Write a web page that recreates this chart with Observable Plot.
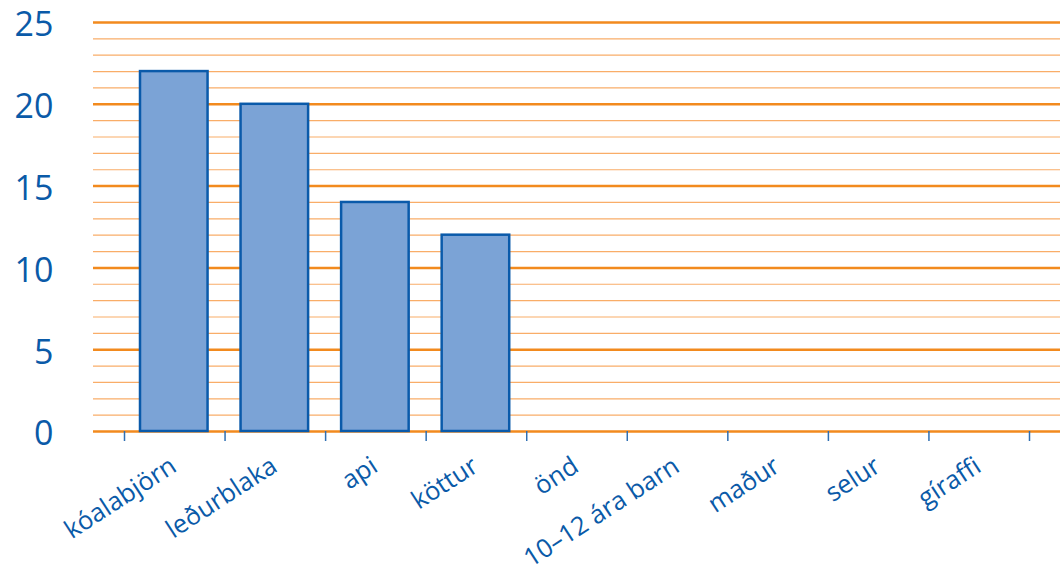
<!DOCTYPE html>
<html>
<head>
<meta charset="utf-8">
<script src="https://cdn.jsdelivr.net/npm/d3@7"></script>
<script src="https://cdn.jsdelivr.net/npm/@observablehq/plot@0.6"></script>
<style>
  html, body { margin: 0; padding: 0; background: #fff; }
  #chart svg { display: block; }
</style>
</head>
<body>
<div id="chart"></div>
<script>
const categories = ["kóalabjörn", "leðurblaka", "api", "köttur", "önd", "10–12 ára barn", "maður", "selur", "gíraffi"];
const values = [22, 20, 14, 12, null, null, null, null, null];
const majorTicks = [0, 5, 10, 15, 20, 25];
const minorTicks = d3.range(0, 26).filter(v => v % 5 !== 0);

const data = categories.map((c, i) => ({ name: c, i, value: values[i] }));
const bars = data.filter(d => d.value != null);
const boundaries = d3.range(0, categories.length + 1);

const blue = "#0a5aa8";

const chart = Plot.plot({
  width: 1060,
  height: 573,
  marginLeft: 93,
  marginRight: 0,
  marginTop: 22,
  marginBottom: 142,
  style: { fontFamily: "'Open Sans', sans-serif", background: "#fff" },
  x: { domain: [0, categories.length], range: [124, 1029], axis: null },
  y: { domain: [0, 25], axis: null },
  marks: [
    Plot.ruleY(minorTicks, { stroke: "#f9ad68", strokeWidth: 1.2 }),
    Plot.ruleY(majorTicks, { stroke: "#f28a1e", strokeWidth: 2.5 }),
    Plot.rectY(bars, {
      x1: d => d.i, x2: d => d.i + 1, y: "value",
      insetLeft: 16, insetRight: 17,
      fill: "#7ba3d6", stroke: "#0a5aaa", strokeWidth: 2.5
    }),
    Plot.ruleX(boundaries, { y1: 0, y2: 0, stroke: "#2f6fb3", strokeWidth: 1.5, insetTop: 0, insetBottom: -10 }),
    Plot.text(data, {
      x: d => d.i + 0.5, y: 0, text: "name",
      rotate: -33, textAnchor: "end", lineAnchor: "middle",
      dx: -1, dy: 32, fontSize: 25.5, fill: blue
    }),
    Plot.text(majorTicks, {
      x: 0, y: d => d, text: d => String(d),
      textAnchor: "end", dx: -71, dy: 3, fontSize: 34, fill: blue
    })
  ]
});
document.getElementById("chart").appendChild(chart);
</script>
</body>
</html>
